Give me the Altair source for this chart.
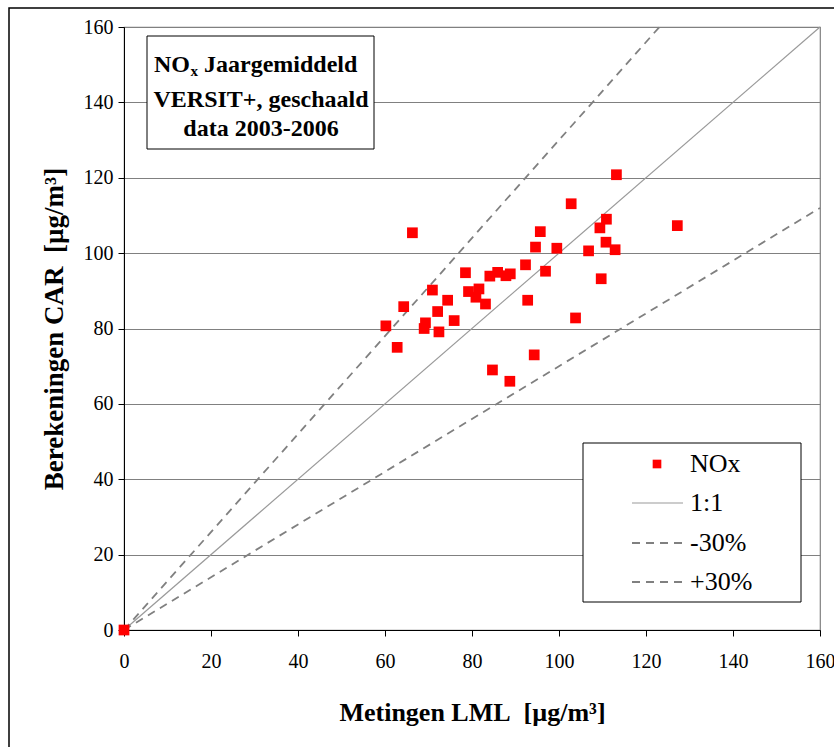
import altair as alt
import pandas as pd

# --- data ---
lml = [0, 66.3, 78.5, 84.1, 85.9, 87.8, 88.8, 92.3, 70.9, 79.2, 81.6, 80.9, 83.1,
       74.4, 64.3, 72.1, 92.8, 60.2, 69.3, 69.0, 75.9, 72.4, 62.8, 84.7, 88.7,
       113.2, 102.8, 110.9, 109.4, 95.7, 94.6, 99.5, 110.8, 106.8, 112.9,
       96.9, 109.7, 103.8, 94.3, 127.2]
car = [0, 105.4, 94.8, 93.9, 94.9, 94.0, 94.5, 96.9, 90.2, 89.8, 90.5, 88.3, 86.5,
       87.5, 85.8, 84.5, 87.5, 80.7, 81.5, 80.0, 82.1, 79.1, 75.0, 69.0, 66.0,
       120.8, 113.1, 109.0, 106.7, 105.7, 101.6, 101.3, 102.9, 100.6, 100.9,
       95.2, 93.2, 82.8, 73.0, 107.3]

# reference lines (endpoints)
ref_series = ["1:1", "1:1", "-30%", "-30%", "+30%", "+30%"]
ref_x = [0, 160, 0, 160, 0, 123.08]
ref_y = [0, 160, 0, 112, 0, 160]

ticks = [0, 20, 40, 60, 80, 100, 120, 140, 160]
legend_labels = ["NOx", "1:1", "-30%", "+30%"]
box_lines = ["VERSIT+, geschaald", "data 2003-2006"]

W, H = 696, 603
FONT = "Liberation Serif, Times New Roman, serif"

pts = pd.DataFrame({"lml": lml, "car": car})
refs = pd.DataFrame({"series": ref_series, "x": ref_x, "y": ref_y})
one = pd.DataFrame({"a": [0]})

xscale = alt.Scale(domain=[0, 160], nice=False, zero=False)
yscale = alt.Scale(domain=[0, 160], nice=False, zero=False)

xaxis = alt.Axis(values=ticks, grid=False, title="Metingen LML\u00a0\u00a0[µg/m³]",
                 titleFont=FONT, labelFont=FONT,
                 titleFontSize=26, titleFontWeight="bold", titleColor="black",
                 titlePadding=28, labelFontSize=20, labelColor="black",
                 labelPadding=15, tickSize=6, tickColor="black", domainColor="black",
                 labelFlush=False)
yaxis = alt.Axis(values=ticks, grid=True, gridColor="#808080", gridWidth=1,
                 title="Berekeningen CAR\u00a0\u00a0[µg/m³]", titleFontSize=27,
                 titleFont=FONT, labelFont=FONT,
                 titleFontWeight="bold", titleColor="black", titlePadding=15,
                 labelFontSize=20, labelColor="black", labelPadding=5, tickSize=6,
                 tickColor="black", domainColor="black")

base_lines = alt.Chart(refs)
solid = base_lines.transform_filter(alt.datum.series == "1:1").mark_line(
    color="#9a9a9a", strokeWidth=1.2).encode(
    x=alt.X("x:Q", scale=xscale, axis=xaxis),
    y=alt.Y("y:Q", scale=yscale, axis=yaxis))
dashed = base_lines.transform_filter(alt.datum.series != "1:1").mark_line(
    color="#808080", strokeWidth=1.8, strokeDash=[8, 6]).encode(
    x=alt.X("x:Q", scale=xscale), y=alt.Y("y:Q", scale=yscale), detail="series:N")

points = alt.Chart(pts).mark_point(shape="square", filled=True, color="#ff0000",
                                   size=115, opacity=1).encode(
    x=alt.X("lml:Q", scale=xscale), y=alt.Y("car:Q", scale=yscale))

# outer frame
frame = alt.Chart(one).mark_rect(fill=None, stroke="black", strokeWidth=1.5).encode(
    x=alt.value(-115), x2=alt.value(W + 40), y=alt.value(-19), y2=alt.value(H + 140))

# title box
tbox = alt.Chart(one).mark_rect(fill="white", stroke="black", strokeWidth=1).encode(
    x=alt.value(23), x2=alt.value(250), y=alt.value(9), y2=alt.value(122))


def txt(s, x, y, size, weight="normal", align="left", baseline="alphabetic"):
    return alt.Chart(one).mark_text(text=s, font=FONT, fontSize=size,
                                    fontWeight=weight, align=align,
                                    baseline=baseline, color="black").encode(
        x=alt.value(x), y=alt.value(y))


t_no = txt("NO", 66, 45, 24, "bold", "right")
t_x = txt("x", 66.5, 49, 15, "bold", "left")
t_j = txt("Jaargemiddeld", 80, 45, 24, "bold", "left")
t_2 = txt(box_lines[0], 137, 80, 24, "bold", "center")
t_3 = txt(box_lines[1], 137, 109, 24, "bold", "center")

# legend
lbox = alt.Chart(one).mark_rect(fill="white", stroke="black", strokeWidth=1).encode(
    x=alt.value(459), x2=alt.value(677), y=alt.value(416), y2=alt.value(575))
lsq = alt.Chart(one).mark_point(shape="square", filled=True, color="#ff0000",
                                size=75, opacity=1).encode(
    x=alt.value(533), y=alt.value(437))
l11 = alt.Chart(one).mark_rule(color="#9a9a9a", strokeWidth=1.2).encode(
    x=alt.value(508), x2=alt.value(559), y=alt.value(476))
lm30 = alt.Chart(one).mark_rule(color="#808080", strokeWidth=1.8,
                                strokeDash=[8, 6]).encode(
    x=alt.value(508), x2=alt.value(559), y=alt.value(516))
lp30 = alt.Chart(one).mark_rule(color="#808080", strokeWidth=1.8,
                                strokeDash=[8, 6]).encode(
    x=alt.value(508), x2=alt.value(559), y=alt.value(555))
ltexts = [txt(lab, 566, yy, 26, "normal", "left", "middle")
          for lab, yy in zip(legend_labels, [437, 476, 516, 555])]

chart = alt.layer(frame, solid, dashed, points, tbox, t_no, t_x, t_j, t_2, t_3,
                  lbox, lsq, l11, lm30, lp30, *ltexts).properties(
    width=W, height=H,
    autosize=alt.AutoSizeParams(type="none"),
    padding={"left": 124, "top": 27, "right": 14, "bottom": 117},
).configure(font=FONT).configure_view(stroke="#808080", strokeWidth=1.2)

chart.save("out.html", embed_options={"renderer": "svg", "actions": False})
